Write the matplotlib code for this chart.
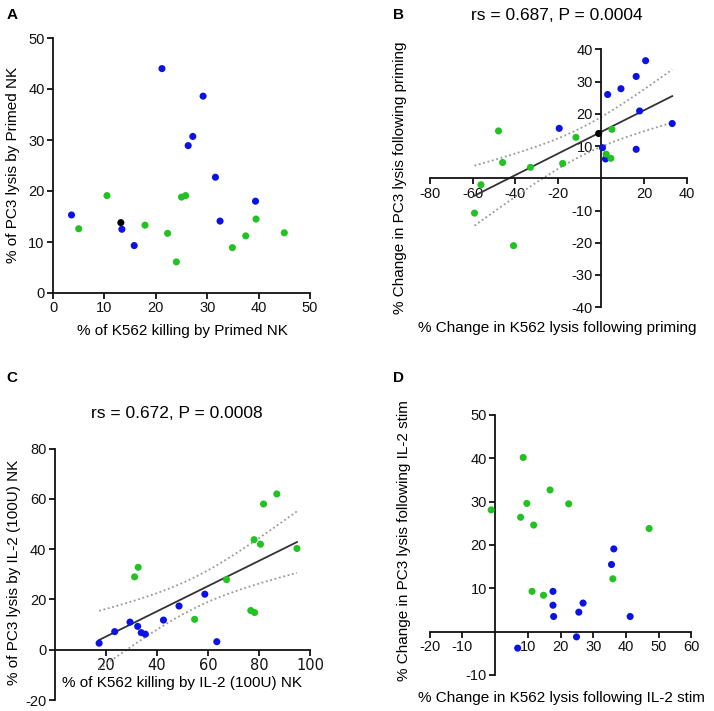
#!/usr/bin/env python3
"""
Four-panel NK lysis scatter figure (PC3 vs K562), GraphPad-like styling.
"""
from __future__ import annotations

import matplotlib

matplotlib.use("Agg")
import matplotlib.pyplot as plt
import numpy as np

BLUE = "#0b12e6"
GREEN = "#22c222"
BLACK = "#000000"

# Panel A: % K562 killing vs % PC3 lysis, primed NK
a_blue_x = [3.6, 13.4, 15.8, 21.2, 26.3, 27.2, 29.2, 31.6, 32.5, 39.4]
a_blue_y = [15.3, 12.5, 9.3, 44.0, 28.9, 30.7, 38.6, 22.7, 14.1, 18.0]
a_green_x = [5.0, 10.5, 17.9, 22.3, 24.0, 25.0, 25.8, 34.9, 37.5, 39.5, 45.0]
a_green_y = [12.6, 19.1, 13.3, 11.7, 6.1, 18.8, 19.1, 8.9, 11.2, 14.5, 11.8]
a_black_x = [13.2]
a_black_y = [13.8]

# Panel B: % change following priming
b_blue_x = [20.7, 16.3, 9.2, 3.0, -19.6, 17.9, 33.1, 0.6, 16.3, 2.0]
b_blue_y = [36.5, 31.6, 27.8, 26.0, 15.5, 20.9, 17.0, 9.5, 9.0, 6.0]
b_green_x = [-47.9, -46.0, -33.0, -18.0, -11.8, 5.0, 2.3, 4.5, -56.1, -59.1, -40.9]
b_green_y = [14.7, 4.9, 3.4, 4.6, 12.7, 15.2, 7.5, 6.2, -2.0, -10.8, -20.9]
b_black_x = [-1.2]
b_black_y = [13.9]

# Panel C: IL-2 (100U) NK
c_blue_x = [17.4, 23.5, 29.5, 32.5, 33.9, 35.5, 42.6, 48.7, 58.8, 63.5]
c_blue_y = [2.6, 7.2, 11.0, 9.3, 6.8, 6.2, 11.8, 17.4, 22.1, 3.2]
c_green_x = [31.3, 32.7, 54.8, 67.3, 76.8, 78.3, 78.1, 80.6, 81.8, 87.0, 94.9]
c_green_y = [29.0, 32.8, 12.1, 27.9, 15.6, 14.8, 43.8, 42.0, 58.0, 62.0, 40.3]

# Panel D: % change following IL-2 stim
d_blue_x = [6.9, 17.7, 17.7, 17.9, 24.9, 25.6, 26.9, 35.6, 36.3, 41.3]
d_blue_y = [-3.8, 9.3, 6.1, 3.5, -1.2, 4.5, 6.6, 15.5, 19.1, 3.5]
d_green_x = [-1.2, 7.8, 8.6, 9.7, 11.8, 11.3, 14.8, 16.8, 22.5, 36.0, 47.1]
d_green_y = [28.1, 26.4, 40.2, 29.6, 24.6, 9.3, 8.4, 32.7, 29.5, 12.2, 23.8]

# two-sided 95% t quantiles for the regression bands
T_DF20 = 2.086
T_DF19 = 2.093

W, H = 714, 711
FONT = "Liberation Sans"


def px_axes(fig, x0, x1, ytop, ybot):
    return fig.add_axes([x0 / W, 1 - ybot / H, (x1 - x0) / W, (ybot - ytop) / H])


def fig_text(fig, x, y, s, **kw):
    kw.setdefault("ha", "center")
    kw.setdefault("va", "center")
    kw.setdefault("family", FONT)
    return fig.text(x / W, 1 - y / H, s, **kw)


def style(ax, xlim, ylim, xticks, yticks, centered=False):
    ax.set_xlim(*xlim)
    ax.set_ylim(*ylim)
    ax.set_xticks(xticks)
    ax.set_yticks(yticks)
    ax.set_xticklabels([f"{t:g}" for t in xticks])
    ax.set_yticklabels([f"{t:g}" for t in yticks])
    for side in ("top", "right"):
        ax.spines[side].set_visible(False)
    if centered:
        ax.spines["left"].set_position(("data", 0))
        ax.spines["bottom"].set_position(("data", 0))
    for side in ("left", "bottom"):
        ax.spines[side].set_linewidth(1.3)
        ax.spines[side].set_color("#111111")
    ax.tick_params(direction="out", length=4, width=1.3, labelsize=10.5,
                   colors="#111111", pad=2)
    for lab in ax.get_xticklabels() + ax.get_yticklabels():
        lab.set_family(FONT)
    ax.patch.set_alpha(0)


def dots(ax, xs, ys, color):
    ax.scatter(xs, ys, s=26, color=color, edgecolors="none", zorder=3,
               clip_on=False)


def regression(ax, xs, ys, tval):
    x = np.asarray(xs, float)
    y = np.asarray(ys, float)
    slope, icpt = np.polyfit(x, y, 1)
    n = len(x)
    resid = y - (slope * x + icpt)
    s = np.sqrt(np.sum(resid ** 2) / (n - 2))
    sxx = np.sum((x - x.mean()) ** 2)
    grid = np.linspace(x.min(), x.max(), 100)
    fit = slope * grid + icpt
    half = tval * s * np.sqrt(1.0 / n + (grid - x.mean()) ** 2 / sxx)
    ax.plot(grid, fit, color="#333333", lw=1.3, zorder=2)
    ax.plot(grid, fit + half, color="#999999", lw=1.3, ls=(0, (1, 1.5)), zorder=2)
    ax.plot(grid, fit - half, color="#999999", lw=1.3, ls=(0, (1, 1.5)), zorder=2)


def main() -> None:
    plt.rcParams["axes.unicode_minus"] = False
    fig = plt.figure(figsize=(W / 100, H / 100), dpi=100)

    # A
    ax = px_axes(fig, 53, 310, 38, 293)
    style(ax, (0, 50), (0, 50), [0, 10, 20, 30, 40, 50], [0, 10, 20, 30, 40, 50])
    dots(ax, a_black_x, a_black_y, BLACK)
    dots(ax, a_blue_x, a_blue_y, BLUE)
    dots(ax, a_green_x, a_green_y, GREEN)
    fig_text(fig, 182, 331, "% of K562 killing by Primed NK", fontsize=11)
    fig_text(fig, 13, 165, "% of PC3 lysis by Primed NK", fontsize=11, rotation=90)

    # B
    ax = px_axes(fig, 429.7, 687, 49.4, 307.2)
    style(ax, (-80, 40), (-40, 40), [-80, -60, -40, -20, 20, 40],
          [-40, -30, -20, -10, 10, 20, 30, 40], centered=True)
    regression(ax, b_blue_x + b_green_x + b_black_x,
               b_blue_y + b_green_y + b_black_y, T_DF20)
    dots(ax, b_blue_x, b_blue_y, BLUE)
    dots(ax, b_green_x, b_green_y, GREEN)
    dots(ax, b_black_x, b_black_y, BLACK)
    fig_text(fig, 557, 16, "rs = 0.687, P = 0.0004", fontsize=12.5)
    fig_text(fig, 557, 328, "% Change in K562 lysis following priming", fontsize=11)
    fig_text(fig, 400, 178, "% Change in PC3 lysis following priming",
             fontsize=11, rotation=90)

    # C
    ax = px_axes(fig, 54.7, 310, 448.7, 700)
    style(ax, (0, 100), (-20, 80), [20, 40, 60, 80, 100],
          [-20, 0, 20, 40, 60, 80])
    ax.spines["bottom"].set_position(("data", 0))
    regression(ax, c_blue_x + c_green_x, c_blue_y + c_green_y, T_DF19)
    dots(ax, c_blue_x, c_blue_y, BLUE)
    dots(ax, c_green_x, c_green_y, GREEN)
    fig_text(fig, 177, 413, "rs = 0.672, P = 0.0008", fontsize=12.5)
    fig_text(fig, 182, 683, "% of K562 killing by IL-2 (100U) NK", fontsize=11)
    fig_text(fig, 14, 572, "% of PC3 lysis by IL-2 (100U) NK", fontsize=11,
             rotation=90)

    # D
    ax = px_axes(fig, 429.7, 691.3, 415, 675)
    style(ax, (-20, 60), (-10, 50), [-20, -10, 10, 20, 30, 40, 50, 60],
          [-10, 10, 20, 30, 40, 50], centered=True)
    dots(ax, d_blue_x, d_blue_y, BLUE)
    dots(ax, d_green_x, d_green_y, GREEN)
    fig_text(fig, 561, 698, "% Change in K562 lysis following IL-2 stim", fontsize=11)
    fig_text(fig, 404, 541, "% Change in PC3 lysis following IL-2 stim",
             fontsize=11, rotation=90)

    for letter, x, y in (("A", 12, 15), ("B", 399, 15), ("C", 12, 378), ("D", 399, 378)):
        fig_text(fig, x, y, letter, fontsize=11, weight="bold")

    fig.savefig("out.png", dpi=100)
    plt.close(fig)


if __name__ == "__main__":
    main()
